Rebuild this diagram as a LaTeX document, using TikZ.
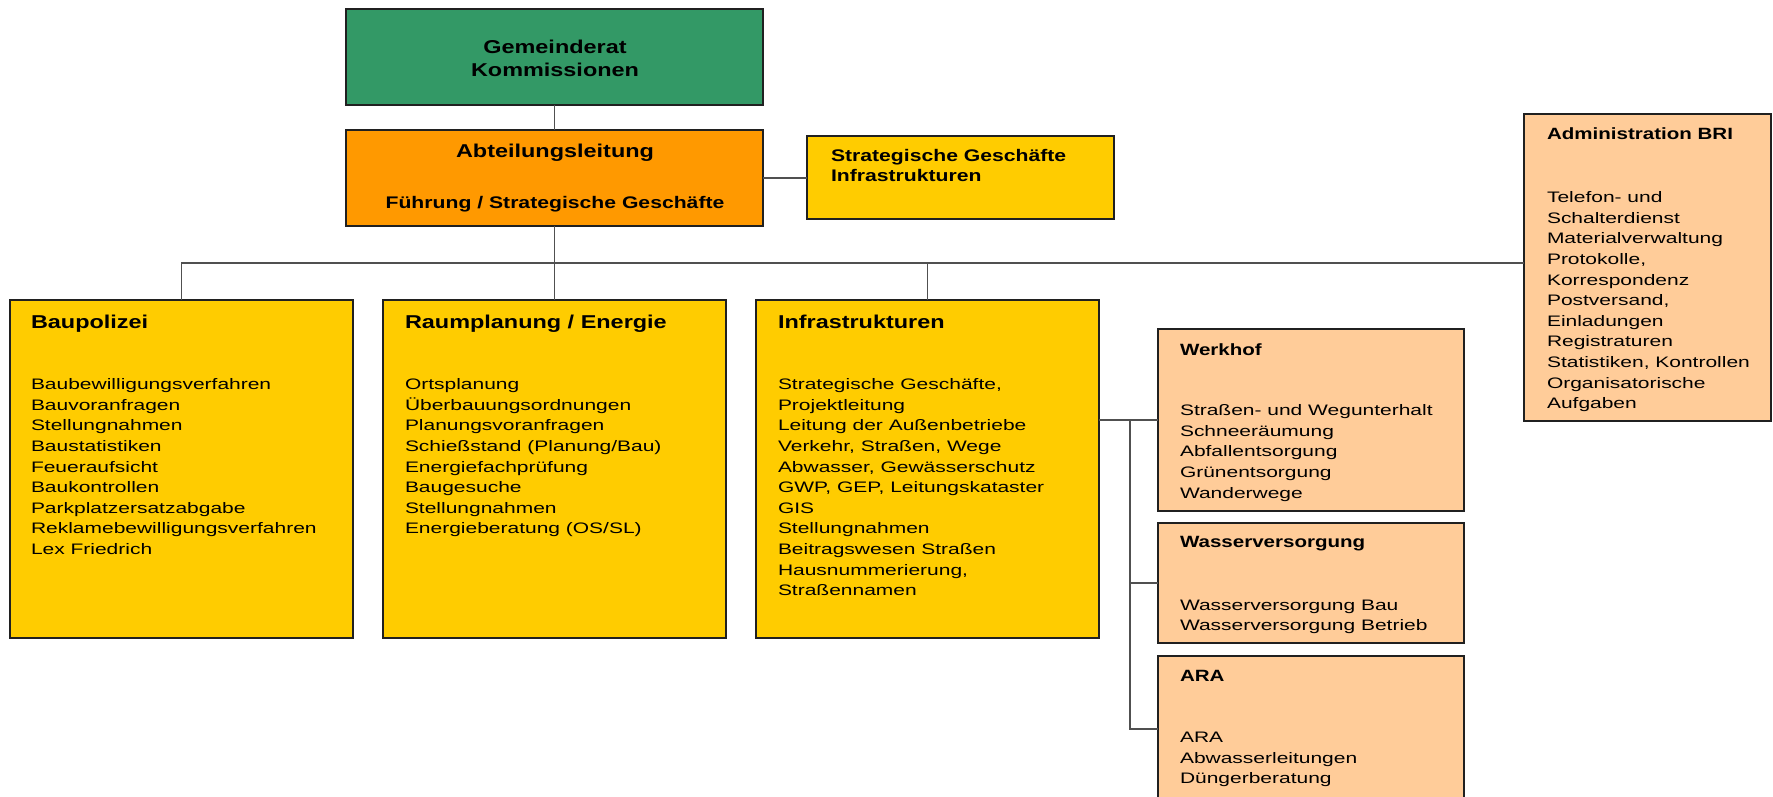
\documentclass[tikz,border=0pt]{standalone}
\usepackage{fontspec}
\setmainfont{Liberation Sans}
\newfontfamily\itemf[FakeStretch=1.38]{Liberation Sans}
\newfontfamily\titf[FakeStretch=1.26]{Liberation Sans}
\newcommand{\lblock}[1]{\begin{tabular}[t]{@{}l@{}}#1\end{tabular}}
\newcommand{\cblock}[1]{\begin{tabular}[t]{@{}c@{}}#1\end{tabular}}
\definecolor{gruen}{HTML}{339966}
\definecolor{orangeA}{HTML}{FF9900}
\definecolor{gelb}{HTML}{FFCC00}
\definecolor{pfirsich}{HTML}{FFCC99}
\definecolor{bordc}{HTML}{202020}
\definecolor{connc}{HTML}{505050}
\tikzset{
  box/.style={draw=bordc, line width=1.5pt, inner sep=0pt, outer sep=0pt, anchor=north west},
  conn/.style={draw=connc, line width=1.3pt},
  itm/.style={font=\itemf\fontsize{15.2}{20.6}\selectfont, inner sep=0pt, outer sep=0pt, anchor=base west},
  bigt/.style={font=\titf\bfseries\fontsize{18.6}{22.5}\selectfont, inner sep=0pt, outer sep=0pt},
  midt/.style={font=\titf\bfseries\fontsize{16.8}{20}\selectfont, inner sep=0pt, outer sep=0pt},
  smlt/.style={font=\titf\bfseries\fontsize{16.3}{20}\selectfont, inner sep=0pt, outer sep=0pt, anchor=base west}
}
\begin{document}
\begin{tikzpicture}[x=1pt,y=-1pt]
\useasboundingbox (0,0) rectangle (1773,797);
\clip (0,0) rectangle (1773,797);
\fill[white] (0,0) rectangle (1773,797);

% boxes
\node[box, fill=gruen, minimum width=417pt, minimum height=96pt] (gem) at (346,9) {};
\node[box, fill=orangeA, minimum width=417pt, minimum height=96pt] (abt) at (346,130) {};
\node[box, fill=gelb, minimum width=307pt, minimum height=83pt] (strat) at (807,136) {};
\node[box, fill=pfirsich, minimum width=247pt, minimum height=307pt] (admin) at (1524,114) {};
\node[box, fill=gelb, minimum width=343pt, minimum height=338pt] (bau) at (10,300) {};
\node[box, fill=gelb, minimum width=343pt, minimum height=338pt] (raum) at (383,300) {};
\node[box, fill=gelb, minimum width=343pt, minimum height=338pt] (infra) at (756,300) {};
\node[box, fill=pfirsich, minimum width=306pt, minimum height=182pt] (werk) at (1158,329) {};
\node[box, fill=pfirsich, minimum width=306pt, minimum height=120pt] (wasser) at (1158,523) {};
\node[box, fill=pfirsich, minimum width=306pt, minimum height=146pt] (ara) at (1158,656) {};

% connectors
\coordinate (bus) at (554.5,263);
\coordinate (spine) at (1130,420);
\draw[conn] (gem.south) -- (abt.north);
\draw[conn] (abt.east) -- (abt.east -| strat.west);
\draw[conn] (abt.south) -- (bus);
\draw[conn] (bau.north) |- (bus -| admin.west);
\draw[conn] (raum.north) -- (raum.north |- bus);
\draw[conn] (infra.north) -- (infra.north |- bus);
\draw[conn] (infra.east |- werk.west) -- (werk.west);
\draw[conn] (spine) |- (ara.west);
\draw[conn] (spine |- wasser.west) -- (wasser.west);

% texts
\node[bigt, anchor=base] (gemT) at (555,54) {\cblock{Gemeinderat\\Kommissionen}};
\node[bigt, anchor=base] (abtT) at (555,157.5) {Abteilungsleitung};
\node[midt, anchor=base] (abtS) at (555,208) {Führung / Strategische Geschäfte};
\node[midt, anchor=base west] (stratT) at (831,161.7) {\lblock{Strategische Geschäfte\\Infrastrukturen}};

\node[smlt] (adminT) at (1547,140) {Administration BRI};
\node[itm] (adminI) at (1547,202.7) {\lblock{Telefon- und\\Schalterdienst\\Materialverwaltung\\Protokolle,\\Korrespondenz\\Postversand,\\Einladungen\\Registraturen\\Statistiken, Kontrollen\\Organisatorische\\Aufgaben}};

\node[bigt, anchor=base west] (bauT) at (31,328.3) {Baupolizei};
\node[itm] (bauI) at (31,389.7) {\lblock{Baubewilligungsverfahren\\Bauvoranfragen\\Stellungnahmen\\Baustatistiken\\Feueraufsicht\\Baukontrollen\\Parkplatzersatzabgabe\\Reklamebewilligungsverfahren\\Lex Friedrich}};

\node[bigt, anchor=base west] (raumT) at (405,328.3) {Raumplanung / Energie};
\node[itm] (raumI) at (405,389.7) {\lblock{Ortsplanung\\Überbauungsordnungen\\Planungsvoranfragen\\Schießstand (Planung/Bau)\\Energiefachprüfung\\Baugesuche\\Stellungnahmen\\Energieberatung (OS/SL)}};

\node[bigt, anchor=base west] (infraT) at (778,328.3) {Infrastrukturen};
\node[itm] (infraI) at (778,389.7) {\lblock{Strategische Geschäfte,\\Projektleitung\\Leitung der Außenbetriebe\\Verkehr, Straßen, Wege\\Abwasser, Gewässerschutz\\GWP, GEP, Leitungskataster\\GIS\\Stellungnahmen\\Beitragswesen Straßen\\Hausnummerierung,\\Straßennamen}};

\node[smlt] (werkT) at (1180,355) {Werkhof};
\node[itm] (werkI) at (1180,415.7) {\lblock{Straßen- und Wegunterhalt\\Schneeräumung\\Abfallentsorgung\\Grünentsorgung\\Wanderwege}};

\node[smlt] (wasserT) at (1180,547.7) {Wasserversorgung};
\node[itm] (wasserI) at (1180,610) {\lblock{Wasserversorgung Bau\\Wasserversorgung Betrieb}};

\node[smlt] (araT) at (1180,681) {ARA};
\node[itm] (araI) at (1180,742.7) {\lblock{ARA\\Abwasserleitungen\\Düngerberatung}};
\end{tikzpicture}
\end{document}
